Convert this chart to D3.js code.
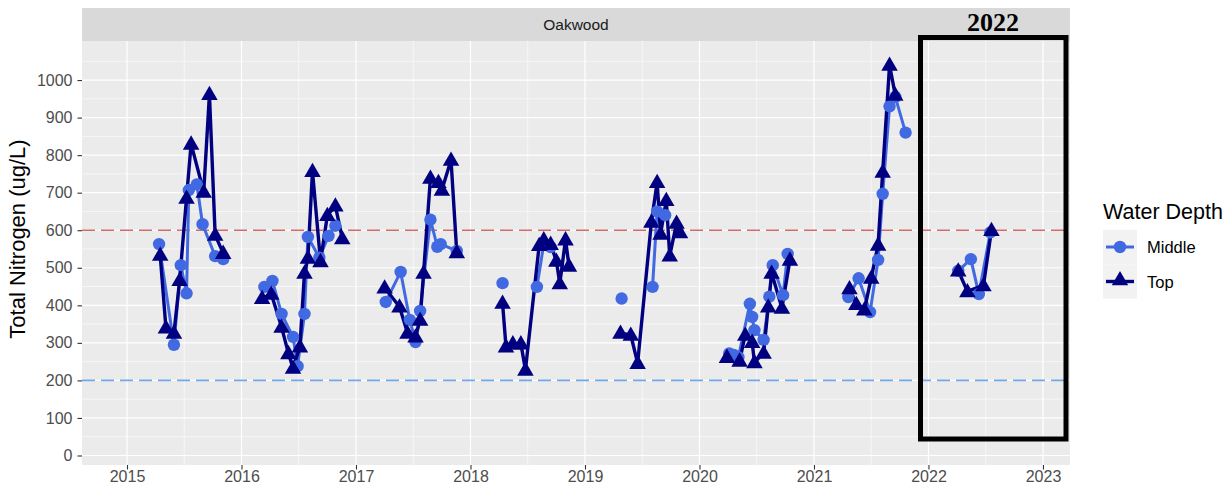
<!DOCTYPE html>
<html>
<head>
<meta charset="utf-8">
<script src="https://cdn.jsdelivr.net/npm/d3@7"></script>
<style>
  body { margin: 0; background: #fff; }
  svg { display: block; font-family: "Liberation Sans", Arial, sans-serif; }
</style>
</head>
<body>
<div id="chart"></div>
<script>
// Oakwood total nitrogen by water depth; dates are decimal years,
// null = no sample (breaks the line)
var midDates = [
  2015.28, 2015.41, 2015.47, 2015.52, 2015.54, 2015.61, 2015.66, 2015.77, 2015.84,
  2016.20, 2016.27, 2016.35, 2016.45, 2016.49, 2016.55, 2016.58, 2016.68, 2016.76, 2016.82,
  2017.26, 2017.39, 2017.47, 2017.52, 2017.56, 2017.65, 2017.71, 2017.74, 2017.88,
  2018.28, 2018.40, 2018.58, 2018.64, 2018.70,
  2019.32, 2019.45, 2019.59, 2019.63, 2019.70,
  2020.26, 2020.30, 2020.34, 2020.44, 2020.46, 2020.48, 2020.56, 2020.61, 2020.64, 2020.73, 2020.77,
  2021.30, 2021.39, 2021.49, 2021.56, 2021.60, 2021.66, 2021.71, 2021.80,
  2022.26, 2022.37, 2022.44, 2022.54
];
var midValues = [
  563, 295, 507, 432, 707, 722, 616, 531, 523,
  449, 465, 377, 316, 238, 377, 582, 527, 585, 612,
  409, 489, 361, 302, 385, 628, 556, 563, 545,
  459, null, 449, 563, 555,
  418, null, 449, 650, 640,
  272, 268, 262, 404, 369, 334, 308, 423, 507, 427, 537,
  422, 472, 382, 521, 697, 930, 955, 860,
  492, 523, 430, 594
];
var topDates = [
  2015.29, 2015.34, 2015.41, 2015.46, 2015.52, 2015.56, 2015.67, 2015.72, 2015.77, 2015.84,
  2016.18, 2016.26, 2016.35, 2016.41, 2016.45, 2016.51, 2016.55, 2016.58, 2016.62, 2016.69, 2016.75, 2016.82, 2016.88,
  2017.25, 2017.38, 2017.45, 2017.52, 2017.56, 2017.59, 2017.65, 2017.72, 2017.75, 2017.83, 2017.88,
  2018.28, 2018.31, 2018.37, 2018.44, 2018.48, 2018.60, 2018.64, 2018.70, 2018.75, 2018.78, 2018.83, 2018.86,
  2019.31, 2019.40, 2019.46, 2019.58, 2019.63, 2019.66, 2019.71, 2019.74, 2019.80, 2019.83,
  2020.24, 2020.35, 2020.40, 2020.46, 2020.48, 2020.56, 2020.60, 2020.63, 2020.72, 2020.79,
  2021.31, 2021.37, 2021.44, 2021.50, 2021.56, 2021.60, 2021.66, 2021.71,
  2022.26, 2022.34, 2022.48, 2022.55
];
var topValues = [
  534, 340, 326, 467, 686, 830, 702, 962, 587, 539,
  419, 430, 342, 272, 233, 290, 486, 526, 757, 517, 640, 665, 578,
  447, 396, 326, 316, 361, 486, 739, 728, 707, 787, 541,
  406, 290, 298, 298, 228, 560, 575, 563, 518, 458, 575, 505,
  326, 321, 246, 622, 728, 590, 680, 532, 619, 594,
  262, 252, 321, 302, 248, 273, 396, 486, 393, 521,
  445, 403, 388, 473, 561, 755, 1040, 960,
  492, 437, 453, 600
];
var yTicks = [0, 100, 200, 300, 400, 500, 600, 700, 800, 900, 1000];
var xTicks = [2015, 2016, 2017, 2018, 2019, 2020, 2021, 2022, 2023];
var refLines = [600, 200];
var depthNames = ["Middle", "Top"];

var W = 1227, H = 484;
var L = 82, R = 1070, T = 41, B = 465;
var svg = d3.select("#chart").append("svg").attr("width", W).attr("height", H);

var x = d3.scaleLinear().domain([2014.607, 2023.236]).range([L, R]);
var y = d3.scaleLinear().domain([-25.3, 1104]).range([B, T]);
var colour = d3.scaleOrdinal().domain(depthNames).range(["#4169E1", "#000080"]);

// strip
svg.append("rect").attr("x", L).attr("y", 8).attr("width", R - L).attr("height", T - 8)
  .attr("fill", "#D9D9D9");
svg.append("text").attr("x", (L + R) / 2).attr("y", 30).attr("text-anchor", "middle")
  .attr("font-size", "15.5px").attr("fill", "#1A1A1A").text("Oakwood");

// panel + grid
svg.append("rect").attr("x", L).attr("y", T).attr("width", R - L).attr("height", B - T)
  .attr("fill", "#EBEBEB");
var grid = svg.append("g");
var minorY = d3.range(50, 1100, 100);
var minorX = d3.range(2015.5, 2023, 1);
grid.selectAll(".my").data(minorY).join("line")
  .attr("x1", L).attr("x2", R).attr("y1", y).attr("y2", y)
  .attr("stroke", "#fff").attr("stroke-width", 0.6);
grid.selectAll(".mx").data(minorX).join("line")
  .attr("y1", T).attr("y2", B).attr("x1", x).attr("x2", x)
  .attr("stroke", "#fff").attr("stroke-width", 0.6);
grid.selectAll(".gy").data(yTicks).join("line")
  .attr("x1", L).attr("x2", R).attr("y1", y).attr("y2", y)
  .attr("stroke", "#fff").attr("stroke-width", 1.2);
grid.selectAll(".gx").data(xTicks).join("line")
  .attr("y1", T).attr("y2", B).attr("x1", x).attr("x2", x)
  .attr("stroke", "#fff").attr("stroke-width", 1.2);

// reference lines
svg.selectAll(".ref").data(refLines).join("line")
  .attr("x1", L).attr("x2", R).attr("y1", y).attr("y2", y)
  .attr("stroke", function (d) { return d === 600 ? "#D26B6B" : "#6FA8E8"; })
  .attr("stroke-width", 1.6).attr("stroke-dasharray", "13,6");

// series
function build(name, dates, values) {
  return dates.map(function (d, i) {
    return { depth: name, date: d, value: values[i], year: Math.floor(d) };
  });
}
var series = [build("Middle", midDates, midValues), build("Top", topDates, topValues)];

var line = d3.line()
  .defined(function (d) { return d.value != null; })
  .x(function (d) { return x(d.date); }).y(function (d) { return y(d.value); });
var lineG = svg.append("g");
series.forEach(function (s) {
  d3.groups(s, function (d) { return d.year; }).forEach(function (g) {
    lineG.append("path").datum(g[1]).attr("d", line).attr("fill", "none")
      .attr("stroke", colour(s[0].depth))
      .attr("stroke-width", s[0].depth === "Top" ? 3.4 : 3)
      .attr("stroke-linejoin", "round");
  });
});

function has(d) { return d.value != null; }
var tri = d3.symbol().type(d3.symbolTriangle).size(118);
var ptG = svg.append("g");
ptG.selectAll("circle").data(series[0].filter(has)).join("circle")
  .attr("cx", function (d) { return x(d.date); })
  .attr("cy", function (d) { return y(d.value); })
  .attr("r", 6.2).attr("fill", colour("Middle"));
ptG.selectAll("path").data(series[1].filter(has)).join("path")
  .attr("d", tri)
  .attr("transform", function (d) { return "translate(" + x(d.date) + "," + (y(d.value) + 1) + ")"; })
  .attr("fill", colour("Top"));

// axes
var yAxis = svg.append("g").attr("transform", "translate(" + L + ",0)")
  .call(d3.axisLeft(y).tickValues(yTicks).tickFormat(d3.format("d")).tickSize(4.5).tickPadding(5));
var xAxis = svg.append("g").attr("transform", "translate(0," + B + ")")
  .call(d3.axisBottom(x).tickValues(xTicks).tickFormat(d3.format("d")).tickSize(4.5).tickPadding(1.5));
[yAxis, xAxis].forEach(function (a) {
  a.select(".domain").remove();
  a.selectAll(".tick line").attr("stroke", "#333").attr("stroke-width", 1.1);
  a.selectAll(".tick text").attr("fill", "#4D4D4D").attr("font-size", "16px")
    .attr("font-family", "Liberation Sans, Arial, sans-serif");
});

svg.append("text").attr("transform", "translate(25," + 239 + ") rotate(-90)")
  .attr("text-anchor", "middle").attr("font-size", "22px").attr("fill", "#000")
  .text("Total Nitrogen (ug/L)");

// legend
var lg = svg.append("g");
lg.append("text").attr("x", 1103).attr("y", 219).attr("font-size", "21.5px").attr("fill", "#000")
  .text("Water Depth");
depthNames.forEach(function (n, i) {
  var cy = 247 + i * 34.5;
  lg.append("rect").attr("x", 1103).attr("y", cy - 17.25).attr("width", 34).attr("height", 34.5)
    .attr("fill", "#F2F2F2");
  lg.append("line").attr("x1", 1106).attr("x2", 1134).attr("y1", cy).attr("y2", cy)
    .attr("stroke", colour(n)).attr("stroke-width", n === "Top" ? 3.4 : 3);
  if (n === "Middle") {
    lg.append("circle").attr("cx", 1120).attr("cy", cy).attr("r", 6.2).attr("fill", colour(n));
  } else {
    lg.append("path").attr("d", tri).attr("transform", "translate(1120," + (cy - 1) + ")")
      .attr("fill", colour(n));
  }
  lg.append("text").attr("x", 1147).attr("y", cy + 6).attr("font-size", "16.5px").attr("fill", "#000")
    .text(n);
});

// 2022 highlight box
svg.append("rect").attr("x", 920.5).attr("y", 37.5).attr("width", 145.5).attr("height", 401.5)
  .attr("fill", "none").attr("stroke", "#000").attr("stroke-width", 5);
svg.append("text").attr("x", 993).attr("y", 31).attr("text-anchor", "middle")
  .attr("font-family", "Liberation Serif, Times New Roman, serif").attr("font-weight", "bold")
  .attr("font-size", "26px").attr("fill", "#000").text("2022");
</script>
</body>
</html>
